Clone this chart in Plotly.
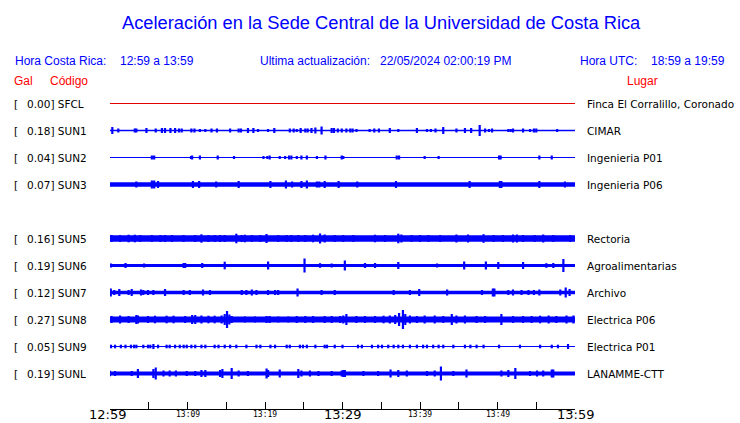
import plotly.graph_objects as go

# ---------------- data ----------------
TITLE = "Aceleración en la Sede Central de la Universidad de Costa Rica"
HORA_CR = "12:59 a 13:59"
ACTUALIZACION = "22/05/2024 02:00:19 PM"
HORA_UTC = "18:59 a 19:59"

# row slots from top to bottom ("" = empty slot, SUN4 not shown)
ROW_SLOTS = ["SFCL", "SUN1", "SUN2", "SUN3", "", "SUN5", "SUN6", "SUN7", "SUN8", "SUN9", "SUNL"]
CODES = ["SFCL", "SUN1", "SUN2", "SUN3", "SUN5", "SUN6", "SUN7", "SUN8", "SUN9", "SUNL"]
GAL = [0.00, 0.18, 0.04, 0.07, 0.16, 0.19, 0.12, 0.27, 0.05, 0.19]
PLACES = ["Finca El Corralillo, Coronado", "CIMAR", "Ingenieria P01", "Ingenieria P06",
          "Rectoria", "Agroalimentarias", "Archivo", "Electrica P06", "Electrica P01",
          "LANAMME-CTT"]
# background noise level of each trace (half-amplitude, trace units)
NOISE = [0.5, 0.7, 0.6, 2.2, 3.3, 1.6, 1.8, 3.1, 0.5, 2.0]

# minutes after 12:59 (0..60)
TICK_MINUTES = [0, 5, 10, 15, 20, 25, 30, 35, 40, 45, 50, 55, 60]
MAJOR_LABELS = {0: "12:59", 30: "13:29", 60: "13:59"}
MINOR_LABELS = {10: "13:09", 20: "13:19", 40: "13:39", 50: "13:49"}

# (minute, peak half-amplitude) of the bursts visible on each trace
SFCL_EVENTS = []
SUN1_EVENTS = [(0.3, 3), (1.07, 1.5), (3.2, 1.5), (3.4, 1.5), (4.7, 2), (5.9, 1.5), (6.7, 2), (7.1, 2),
               (7.8, 2), (8.4, 2), (8.9, 1.5), (9.25, 1.5), (10.5, 1.5), (10.9, 1.5), (11.6, 1),
               (12.3, 1), (13.1, 1.5), (13.8, 1.5), (15.5, 1.5), (16.6, 1.5), (16.9, 1.5), (17.8, 2),
               (18.5, 2), (19.1, 1), (20.4, 1), (21.2, 2), (23.2, 1.5), (23.7, 1.5), (24.1, 1),
               (24.6, 2), (25.2, 1.5), (25.5, 1.5), (26.0, 2), (26.5, 2.5), (27.3, 3.5), (28.6, 2),
               (28.9, 2), (29.4, 1.5), (29.9, 1.5), (30.5, 1.5), (31.0, 1.5), (31.3, 1.5), (31.8, 1),
               (33.5, 1), (34.1, 1.5), (34.7, 1.5), (36.1, 2), (37.2, 1), (39.6, 2), (40.9, 1),
               (41.4, 1), (42.0, 1.5), (43.0, 3), (44.7, 1.5), (45.8, 2), (46.6, 2), (47.7, 5),
               (48.4, 1.5), (48.9, 1), (49.3, 1.5), (51.4, 1), (51.7, 1), (52.0, 1.5), (53.3, 1.5),
               (54.2, 1), (54.7, 1.5), (55.0, 1.5), (57.7, 1)]
SUN2_EVENTS = [(5.4, 1.5), (5.7, 1.5), (10.45, 1), (10.6, 1.5), (11.6, 1.5), (13.9, 1.5), (16.0, 1),
               (19.8, 1), (20.3, 1), (20.6, 1.5), (21.9, 1), (22.6, 1), (23.1, 1.5), (23.4, 1.5),
               (24.1, 1), (24.7, 1.5), (25.4, 1.5), (26.7, 1), (27.8, 1.5), (29.9, 1.5), (30.1, 1),
               (37.0, 1.5), (37.3, 1.5), (40.6, 1), (42.4, 1), (50.2, 1.5), (50.4, 1.5), (55.4, 1.5),
               (57.0, 1.5)]
SUN3_EVENTS = [(3.4, 2.5), (5.4, 3.5), (5.7, 3.5), (6.2, 3), (10.7, 3), (11.5, 3), (13.7, 2.5),
               (16.6, 3), (20.7, 3), (22.7, 3.5), (23.5, 2.5), (24.7, 3), (25.4, 3.5), (26.7, 2.5),
               (27.0, 2.5), (27.7, 3), (29.5, 3), (31.9, 2.5), (36.9, 3), (46.4, 3), (50.3, 3),
               (50.5, 3), (55.4, 3), (58.7, 2.5)]
SUN5_EVENTS = [(0.2, 3), (1.3, 3), (2.4, 3.3), (3.2, 3.3), (3.9, 3), (5.4, 3), (6.5, 3), (7.1, 3),
               (8.0, 3), (9.5, 3), (11.0, 3), (11.8, 3.7), (12.7, 3), (13.5, 3), (14.2, 3), (14.8, 3),
               (16.3, 4.3), (17.0, 3), (17.4, 3.3), (18.3, 3), (19.4, 3), (20.2, 4), (21.7, 3),
               (22.8, 3), (23.4, 3), (24.3, 3), (25.2, 3), (26.2, 3.3), (27.1, 4.5), (27.7, 3.5),
               (29.0, 3), (30.1, 3), (31.4, 3), (34.2, 3.3), (35.5, 3), (37.2, 4.3), (37.6, 3.5),
               (38.9, 3), (40.0, 3), (41.1, 3), (42.6, 3), (44.7, 3.5), (46.2, 3.5), (48.2, 3.8),
               (49.5, 3), (50.7, 3), (52.0, 3.5), (52.5, 3.5), (53.3, 3), (54.8, 3), (55.9, 3.5),
               (57.2, 3), (59.4, 3)]
SUN6_EVENTS = [(0.13, 1.5), (2.0, 2), (4.4, 1.5), (9.5, 2), (9.7, 2), (11.9, 2), (14.8, 3.3),
               (20.4, 3.5), (25.1, 6.5), (27.1, 1.8), (28.6, 1.5), (30.3, 4.5), (32.9, 2), (34.2, 2),
               (37.2, 3), (42.2, 1.5), (45.7, 3.5), (48.5, 3.5), (50.1, 3), (53.3, 3), (56.3, 1.8),
               (57.2, 2), (58.5, 6)]
SUN7_EVENTS = [(0.1, 3.5), (0.55, 2), (1.2, 3), (2.4, 2), (2.8, 3), (4.0, 2.5), (4.3, 2), (4.9, 2),
               (5.6, 2), (7.1, 3), (9.5, 2), (10.3, 2), (12.0, 2.5), (12.9, 2), (17.0, 2), (17.6, 2),
               (18.3, 2.5), (18.9, 2), (20.4, 2), (21.3, 2), (21.7, 2), (24.2, 3.5), (27.3, 2),
               (29.0, 2), (36.6, 2), (38.7, 2), (39.9, 3), (43.5, 2.5), (48.0, 2), (49.4, 3.5),
               (49.6, 3.5), (51.4, 2), (52.0, 2.5), (53.1, 2), (54.0, 2), (54.7, 2), (55.4, 2.5),
               (58.1, 2.5), (58.8, 4.5), (59.3, 3)]
SUN8_EVENTS = [(0.2, 3), (1.3, 3.5), (2.4, 3), (3.4, 4), (3.6, 3.5), (4.9, 3), (5.8, 3.3), (7.3, 3.3),
               (8.2, 3.3), (9.7, 3), (10.6, 4), (11.0, 4), (11.8, 3.5), (12.7, 3.3), (13.5, 3.3),
               (14.4, 3.5), (14.8, 5), (15.1, 8), (15.4, 4.5), (15.7, 3), (17.4, 2.5), (18.7, 2.5),
               (20.2, 3), (20.6, 3), (21.7, 2.5), (23.0, 2.5), (24.1, 3), (25.2, 3), (26.2, 3),
               (27.7, 3), (28.6, 3), (29.7, 3), (30.1, 3.5), (30.5, 5), (31.8, 3), (32.9, 3),
               (34.2, 3), (35.3, 3.3), (36.1, 3.5), (36.8, 4), (37.3, 6), (37.8, 9), (38.1, 5),
               (38.7, 3.5), (39.6, 3), (40.6, 3.5), (41.9, 3.5), (43.0, 3), (44.1, 5), (44.7, 3.5),
               (45.8, 3.5), (47.3, 3), (48.4, 3), (50.5, 5), (52.0, 3), (53.3, 3), (54.4, 3),
               (55.5, 3.3), (56.6, 3.5), (57.6, 3), (58.9, 3.5), (59.8, 3.5)]
SUN9_EVENTS = [(0.13, 1.3), (0.65, 1.3), (1.4, 1.3), (2.0, 1.3), (2.7, 1.3), (3.1, 1.3), (3.4, 1.3),
               (4.3, 1.3), (4.9, 1.3), (5.2, 1.3), (5.6, 2), (6.2, 1.3), (7.3, 1.3), (7.7, 1.3),
               (8.4, 1.3), (9.0, 1.3), (9.5, 1.3), (9.9, 1.3), (10.5, 1.3), (11.0, 1.3), (11.8, 1.3),
               (12.3, 1.3), (13.5, 1.3), (14.0, 1.3), (14.8, 1.3), (15.5, 1.3), (16.3, 1.3),
               (17.6, 1.3), (18.9, 1.3), (19.4, 1.3), (20.7, 1.3), (21.3, 1.3), (22.8, 1.3),
               (23.2, 1.3), (24.5, 1.3), (24.9, 1.3), (25.4, 1.3), (26.5, 1.3), (27.7, 1.3),
               (28.0, 1.3), (29.0, 1.3), (30.0, 1.3), (32.0, 1.3), (32.5, 1.3), (33.8, 1.3),
               (34.6, 1.3), (35.1, 1.3), (35.9, 1.3), (36.6, 1.3), (37.2, 1.3), (37.8, 1.3),
               (38.7, 1.3), (39.6, 1.3), (40.4, 1.3), (40.9, 1.3), (41.7, 1.3), (42.4, 1.3),
               (43.0, 1.3), (44.3, 1.3), (45.8, 1.3), (46.5, 1.3), (47.3, 1.3), (48.2, 1.3),
               (50.2, 1.3), (52.9, 1.3), (55.5, 1.3), (57.0, 1.3), (57.8, 1.3), (59.1, 2)]
SUNL_EVENTS = [(0.0, 2.3), (0.65, 2), (2.8, 2), (3.6, 4), (5.6, 4), (5.9, 5.5), (6.9, 2.5), (7.7, 2.5),
               (8.5, 2.5), (9.9, 2), (11.0, 2), (11.8, 3), (12.3, 3), (14.2, 3), (14.5, 4), (15.7, 5),
               (16.6, 2.5), (17.8, 2), (20.2, 4.5), (20.4, 3), (21.9, 3.5), (24.3, 4), (24.7, 2.5),
               (25.8, 2.5), (26.9, 2), (28.6, 2), (29.9, 2.5), (30.1, 3), (30.3, 3), (32.7, 2),
               (34.6, 2), (36.2, 3.5), (37.2, 3), (38.3, 2.5), (40.9, 2), (41.9, 2.5), (42.7, 6.5),
               (44.3, 2), (46.0, 3.5), (50.5, 2.5), (51.4, 3), (52.3, 5), (54.2, 2), (55.1, 2.5),
               (55.9, 2.5), (57.0, 3.5), (57.2, 3.5)]

EVENTS = {"SFCL": SFCL_EVENTS, "SUN1": SUN1_EVENTS, "SUN2": SUN2_EVENTS, "SUN3": SUN3_EVENTS,
          "SUN5": SUN5_EVENTS, "SUN6": SUN6_EVENTS, "SUN7": SUN7_EVENTS, "SUN8": SUN8_EVENTS,
          "SUN9": SUN9_EVENTS, "SUNL": SUNL_EVENTS}

# ---------------- layout ----------------
W, H = 740, 423
ML, MR, MT, MB = 110, 165, 90, 14
PW, PH = W - ML - MR, H - MT - MB
ROW_PX = 27.0
Y_TOP = -13.5 / ROW_PX
Y_BOT = Y_TOP + PH / ROW_PX
PX_PER_ROW = PH / (Y_BOT - Y_TOP)

BLUE = "#0000FF"
RED = "#FF0000"
TRACE_BLUE = "#0000FF"
SFCL_RED = "#E00000"


def px_x(px):
    return (px - ML) / PW


def px_y(py):
    return (H - MB - py) / PH


fig = go.Figure()

for code, noise in zip(CODES, NOISE):
    row = ROW_SLOTS.index(code)
    color = SFCL_RED if code == "SFCL" else TRACE_BLUE
    width = max(1.0, 2 * noise)
    fig.add_trace(go.Scatter(x=[TICK_MINUTES[0], TICK_MINUTES[-1]], y=[row, row], mode="lines",
                             line=dict(color=color, width=width), hoverinfo="skip", showlegend=False))
    ev = EVENTS[code]
    if ev:
        xs, ys = [], []
        for m, a in ev:
            d = (a + 0.5) / PX_PER_ROW
            xs += [m, m, None]
            ys += [row - d, row + d, None]
        fig.add_trace(go.Scatter(x=xs, y=ys, mode="lines", line=dict(color=color, width=2.2),
                                 hoverinfo="skip", showlegend=False))

ann = []
# title and header
ann.append(dict(text=TITLE, x=px_x(381), y=px_y(22), xanchor="center", yanchor="middle",
                font=dict(family="Liberation Sans", size=18.3, color=BLUE)))
hdr = [("Hora Costa Rica:", 15), (HORA_CR, 120), ("Ultima actualización:", 260),
       (ACTUALIZACION, 380), ("Hora UTC:", 580), (HORA_UTC, 651)]
for t, x0 in hdr:
    ann.append(dict(text=t, x=px_x(x0), y=px_y(61), xanchor="left", yanchor="middle",
                    font=dict(family="Liberation Sans", size=12, color=BLUE)))
for t, x0 in [("Gal", 14), ("Código", 50), ("Lugar", 627)]:
    ann.append(dict(text=t, x=px_x(x0), y=px_y(81), xanchor="left", yanchor="middle",
                    font=dict(family="Liberation Sans", size=12, color=RED)))

# station rows
for code, g, place in zip(CODES, GAL, PLACES):
    row = ROW_SLOTS.index(code)
    f = dict(family="DejaVu Sans", size=10.5, color="black")
    ann.append(dict(text="[", x=px_x(14), y=row, yref="y", xanchor="left", yanchor="middle", font=f))
    ann.append(dict(text=f"{g:.2f}] {code}", x=px_x(27), y=row, yref="y", xanchor="left",
                    yanchor="middle", font=f))
    ann.append(dict(text=place, x=px_x(587), y=row, yref="y", xanchor="left", yanchor="middle", font=f))

# time labels
for m, t in MAJOR_LABELS.items():
    ann.append(dict(text=t, x=m, xref="x", y=px_y(414.5), yref="paper", xanchor="center",
                    yanchor="middle", xshift=-3 if m == TICK_MINUTES[0] else 0,
                    font=dict(family="DejaVu Sans", size=13, color="black")))
for m, t in MINOR_LABELS.items():
    ann.append(dict(text=t, x=m, xref="x", y=px_y(414), yref="paper", xanchor="center",
                    yanchor="middle", font=dict(family="DejaVu Sans Mono", size=8, color="black")))

for a in ann:
    a.setdefault("xref", "paper")
    a.setdefault("yref", "paper")
    a["showarrow"] = False
    a["borderpad"] = 0
    a["borderwidth"] = 0

fig.update_layout(
    width=W, height=H,
    margin=dict(l=ML, r=MR, t=MT, b=MB, pad=0),
    paper_bgcolor="white", plot_bgcolor="white",
    annotations=ann,
    xaxis=dict(range=[TICK_MINUTES[0], TICK_MINUTES[-1]], showgrid=False, zeroline=False,
               showline=True, linecolor="black", linewidth=1, ticks="inside", ticklen=7,
               tickcolor="black", tickwidth=1, tickvals=TICK_MINUTES, showticklabels=False,
               fixedrange=True),
    yaxis=dict(range=[Y_BOT, Y_TOP], visible=False, fixedrange=True),
)

fig.write_html("out.html", config={"displayModeBar": False},
               post_script="document.body.style.margin='0';")
